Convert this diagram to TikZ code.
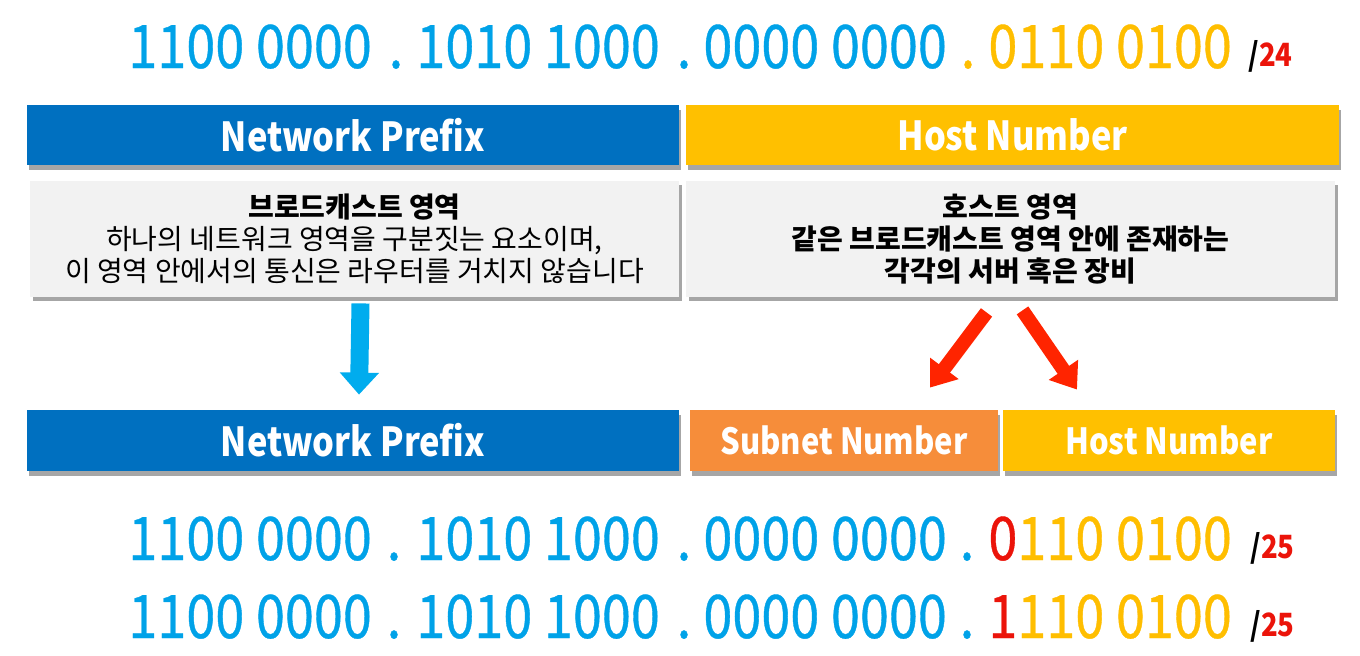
\documentclass[tikz,border=0pt]{standalone}
\usepackage{fontspec}
\setmainfont{Noto Sans CJK KR}[FakeStretch=0.86]
\newfontfamily\kr{Noto Sans CJK KR}
\newfontfamily\digfont{Noto Sans CJK KR}[FakeStretch=0.87,FakeBold=0.6]
\usetikzlibrary{shadows,arrows.meta,calc}
\definecolor{barblue}{RGB}{0,112,192}
\definecolor{baryellow}{RGB}{255,192,0}
\definecolor{barorange}{RGB}{246,141,58}
\definecolor{boxgray}{RGB}{242,242,242}
\definecolor{digblue}{RGB}{0,162,232}
\definecolor{digyellow}{RGB}{255,190,0}
\definecolor{digred}{RGB}{235,20,10}
\definecolor{arrblue}{RGB}{0,172,238}
\definecolor{arrred}{RGB}{255,36,0}
\tikzset{
  bar/.style={draw=none, text=white, font=\bfseries\fontsize{20}{24}\selectfont, minimum height=30pt, inner sep=0pt,
    drop shadow={shadow xshift=1pt, shadow yshift=-2.5pt, opacity=0.35, fill=black}},
  graybox/.style={fill=boxgray, draw=none, minimum width=324.5pt, minimum height=58pt, inner sep=0pt, align=center,
    font=\kr\fontsize{14}{16}\selectfont,
    drop shadow={shadow xshift=1.5pt, shadow yshift=-2pt, opacity=0.35, fill=black}},
  bin/.style={anchor=base west, inner sep=0pt, font=\digfont\fontsize{30}{30}\selectfont},
  dotn/.style={anchor=base, inner sep=0pt, font=\digfont\fontsize{30}{30}\selectfont},
  pref/.style={anchor=base west, inner sep=0pt, font=\bfseries\fontsize{16}{16}\selectfont},
  bigarrow/.style={line width=7pt, -{Triangle[length=12pt,width=17pt]}}
}
\begin{document}
\begin{tikzpicture}[x=0.5pt,y=-0.5pt]
\useasboundingbox (0,0) rectangle (1360,655);
% top binary line
\node[bin, text=digblue] (t1) at (128,68) {1100 0000};
\node[dotn, text=digblue] (td1) at (396,68) {.};
\node[bin, text=digblue] (t2) at (416,68) {1010 1000};
\node[dotn, text=digblue] (td2) at (684,68) {.};
\node[bin, text=digblue] (t3) at (703,68) {0000 0000};
\node[dotn, text=digyellow] (td3) at (968,68) {.};
\node[bin, text=digyellow] (t4) at (988,68) {0110 0100};
\node[pref] (tp) at (1248,66) {\textcolor{black}{/}\textcolor{digred}{24}};
% bars top
\node[bar, fill=barblue, minimum width=326pt] (np1) at (353,135) {Network Prefix};
\node[bar, fill=baryellow, minimum width=326.5pt] (hn1) at (1012.5,135) {Host Number};
% gray boxes
\node[graybox] (gl) at (354.5,239) {\textbf{브로드캐스트 영역}\\하나의 네트워크 영역을 구분짓는 요소이며,\\이 영역 안에서의 통신은 라우터를 거치지 않습니다};
\node[graybox, font=\kr\bfseries\fontsize{14}{16}\selectfont] (gr) at (1010.5,239) {호스트 영역\\같은 브로드캐스트 영역 안에 존재하는\\각각의 서버 혹은 장비};
% bottom bars
\node[bar, fill=barblue, minimum width=326pt, minimum height=30.5pt] (np2) at (353,440.5) {Network Prefix};
\node[bar, fill=barorange, minimum width=154pt, minimum height=30.5pt, font=\bfseries\fontsize{18}{20}\selectfont] (sn) at (844,440.5) {Subnet Number};
\node[bar, fill=baryellow, minimum width=166pt, minimum height=30.5pt, font=\bfseries\fontsize{18}{20}\selectfont] (hn2) at (1169,440.5) {Host Number};
% arrows
\draw[line width=9pt, arrblue, -{Triangle[length=11pt,width=19pt]}] ($(gl.south)+(6,6)$) -- ($(np2.north)+(6,-15)$);
\draw[bigarrow, arrred] ($(gr.south)+(-24,15)$) -- ($(sn.north)+(86,-22)$);
\draw[bigarrow, arrred] ($(gr.south)+(12,13)$) -- ($(hn2.north)+(-92,-20)$);
% bottom binary lines
\node[bin, text=digblue] (a1) at (128,560) {1100 0000};
\node[dotn, text=digblue] (ad1) at (394,560) {.};
\node[bin, text=digblue] (a2) at (416,560) {1010 1000};
\node[dotn, text=digblue] (ad2) at (684,560) {.};
\node[bin, text=digblue] (a3) at (703,560) {0000 0000};
\node[dotn, text=digblue] (ad3) at (967,560) {.};
\node[bin, text=digyellow] (a4) at (988,560) {\textcolor{digred}{0}110 0100};
\node[pref] (ap) at (1250,558) {\textcolor{black}{/}\textcolor{digred}{25}};
\node[bin, text=digblue] (b1) at (128,638) {1100 0000};
\node[dotn, text=digblue] (bd1) at (394,638) {.};
\node[bin, text=digblue] (b2) at (416,638) {1010 1000};
\node[dotn, text=digblue] (bd2) at (684,638) {.};
\node[bin, text=digblue] (b3) at (703,638) {0000 0000};
\node[dotn, text=digblue] (bd3) at (967,638) {.};
\node[bin, text=digyellow] (b4) at (988,638) {\textcolor{digred}{1}110 0100};
\node[pref] (bp) at (1250,636) {\textcolor{black}{/}\textcolor{digred}{25}};
\end{tikzpicture}
\end{document}
